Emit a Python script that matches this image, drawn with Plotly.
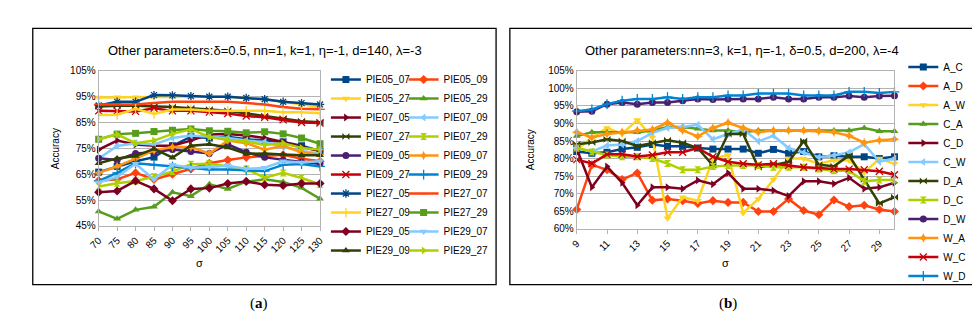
import plotly.graph_objects as go

# ---------------- data: panel (a) ----------------
sigma_a = [70, 75, 80, 85, 90, 95, 100, 105, 110, 115, 120, 125, 130]
names_a = ["PIE05_07", "PIE05_09", "PIE05_27", "PIE05_29", "PIE07_05", "PIE07_09",
           "PIE07_27", "PIE07_29", "PIE09_05", "PIE09_07", "PIE09_27", "PIE09_29",
           "PIE27_05", "PIE27_07", "PIE27_09", "PIE27_29", "PIE29_05", "PIE29_07",
           "PIE29_09", "PIE29_27"]
PIE05_07 = [65.8, 68, 70, 71.6, 76, 79.5, 79, 79.5, 78.5, 78, 77.5, 76, 74]
PIE05_09 = [62.5, 63, 65.5, 63, 65, 67, 69.2, 70.5, 71.5, 72, 72.5, 71, 70]
PIE05_27 = [94.7, 94.8, 94.8, 95, 95, 95, 95, 95, 94.5, 94, 93, 92, 91]
PIE05_29 = [50.6, 47.7, 51.2, 52.4, 58, 56.5, 61.1, 59.3, 62.1, 63, 62, 59.7, 55.5]
PIE07_05 = [74.5, 78, 76.5, 76, 76, 78, 80.4, 80.5, 80, 79, 77.5, 75.5, 74]
PIE07_09 = [71, 75.9, 77, 76.5, 79, 80, 79.5, 79, 78, 77.5, 75.5, 74, 73]
PIE07_27 = [91.2, 91.5, 91.5, 91.3, 91, 90.5, 90, 89.5, 88.5, 87.5, 86.5, 85.5, 85.1]
PIE07_29 = [60.2, 61.5, 62.4, 64, 66, 68.8, 69, 68, 67, 63.6, 65.5, 63.5, 61]
PIE09_05 = [71.2, 70.5, 73, 73.5, 74.5, 73.8, 73, 76.5, 73.5, 71.5, 70.5, 69.7, 69]
PIE09_07 = [65.5, 68, 71, 74.2, 75.5, 75.5, 73, 78, 77, 74.5, 76, 73.5, 72.5]
PIE09_27 = [89.5, 89.5, 89.3, 90.5, 89.5, 89.5, 89, 88.5, 87.5, 87, 86, 85, 84.8]
PIE09_29 = [62.4, 65.5, 69.2, 68.6, 68, 67.4, 66.8, 66.8, 66.5, 66.2, 68.6, 68.9, 68]
PIE27_05 = [91.6, 93, 93, 95.6, 95.5, 95.2, 95, 95, 94.5, 94, 93, 92.5, 92]
PIE27_07 = [92, 92, 92, 92.5, 93, 93, 93, 93, 92.5, 92, 91, 90.3, 90.1]
PIE27_09 = [87.9, 88, 90.3, 88.3, 90, 90, 89.5, 89.5, 89.5, 89.5, 89, 89, 88.6]
PIE27_29 = [78.5, 80.5, 80.8, 81.5, 82, 82.5, 81.8, 81.6, 81, 81.4, 80.6, 79, 76.8]
PIE29_05 = [58, 58.5, 62.4, 59.3, 54.7, 59.3, 59.6, 61.4, 62.2, 60.9, 60.6, 61.4, 61.4]
PIE29_07 = [61.8, 64, 69, 63, 68.6, 67.5, 67.8, 68.3, 67, 67.5, 70, 69.5, 70]
PIE29_09 = [69.2, 71.1, 72, 74.8, 71.4, 76, 76.6, 75.3, 72.9, 73, 72.6, 72.3, 72.3]
PIE29_27 = [78.5, 80.4, 77, 78, 80.6, 82.4, 79.4, 78.2, 77.6, 76.3, 77, 75.1, 74.5]
values_a = [PIE05_07, PIE05_09, PIE05_27, PIE05_29, PIE07_05, PIE07_09, PIE07_27,
            PIE07_29, PIE09_05, PIE09_07, PIE09_27, PIE09_29, PIE27_05, PIE27_07,
            PIE27_09, PIE27_29, PIE29_05, PIE29_07, PIE29_09, PIE29_27]

# ---------------- data: panel (b) ----------------
sigma_b = [9, 10, 11, 12, 13, 14, 15, 16, 17, 18, 19, 20, 21, 22, 23, 24, 25, 26, 27, 28, 29, 30]
sigma_b_ticks = [9, 11, 13, 15, 17, 19, 21, 23, 25, 27, 29]
names_b = ["A_C", "A_D", "A_W", "C_A", "C_D", "C_W", "D_A", "D_C", "D_W", "W_A", "W_C", "W_D"]
A_C = [82, 81.5, 81.8, 82.7, 83.2, 84, 83.5, 83.5, 83, 82.7, 82.7, 82.7, 81.5, 82.6, 81.5, 82, 80.5, 80.8, 80.5, 80.5, 80, 80.5]
A_D = [65.5, 78.2, 76.8, 74, 75.9, 68.1, 68.5, 68, 67.2, 68, 67.5, 67.5, 64.9, 64.9, 68.5, 65.2, 64, 68.2, 66.3, 66.7, 65.5, 64.9]
A_W = [82.5, 86, 88.7, 87, 91, 86, 63, 69, 68, 80, 81, 64.5, 68.5, 74, 80, 80, 78.5, 79.5, 79.5, 76, 80, 78.5]
C_A = [86.4, 87.5, 87.5, 87.5, 87.5, 88, 89, 89, 88.5, 88, 88, 87.5, 88, 88, 88, 88, 88, 88, 88, 88.7, 87.8, 87.8]
C_D = [82.7, 71.8, 77.7, 73.1, 66.7, 71.8, 71.8, 71.4, 73.8, 72.7, 75.9, 71.4, 71.4, 70.9, 69.3, 73.5, 73.5, 72.8, 74.5, 71.4, 71.8, 73.1]
C_W = [83, 82, 83.7, 84, 85, 87.3, 88.7, 89, 89.6, 85.5, 87, 88.3, 84.9, 86.5, 83, 81.7, 80.4, 80.9, 81.8, 84.1, 79.1, 80]
D_A = [84.1, 84.6, 85.5, 85, 83.6, 84.5, 85.2, 84.5, 83, 78, 87, 87, 77.5, 78.2, 79, 85, 78.2, 77.8, 80.9, 74, 67.2, 69]
D_C = [83, 81.9, 81, 80.5, 80.5, 80, 78.6, 76.8, 76.8, 77.7, 78, 78, 78, 77.5, 77.5, 77.5, 77, 76.5, 76.5, 73.5, 73.9, 73.9]
D_W = [93.3, 93.5, 95.5, 96, 95.5, 96, 96, 96.5, 97, 96.8, 97, 97, 97, 97.5, 97, 97, 97.5, 97.5, 97.8, 97.5, 97.8, 97.9]
W_A = [87.5, 86, 87, 87.5, 88, 88.3, 90.2, 88, 86.3, 88.7, 90.2, 88.7, 87.5, 88, 88, 88, 87.8, 87.5, 86.5, 84.5, 85.2, 85.5]
W_C = [79.7, 78.6, 81.2, 81.2, 80.6, 81, 81.8, 81.8, 83, 80.5, 79.1, 78.5, 78.2, 78.5, 78, 77.5, 77.3, 77, 77, 76.8, 76.4, 75.4]
W_D = [93.5, 94, 95.5, 96.5, 97, 97, 97.5, 97, 97.5, 97.5, 98, 98, 98.5, 98.5, 98.5, 98, 98, 98, 99, 99, 98.7, 99]
values_b = [A_C, A_D, A_W, C_A, C_D, C_W, D_A, D_C, D_W, W_A, W_C, W_D]

# ---------------- styles ----------------
palette = ["#004586", "#ff420e", "#ffd320", "#579d1c", "#7e0021", "#83caff",
           "#314004", "#aecf00", "#4b1f6f", "#ff950e", "#c5000b", "#0084d1"]
symbols = ["square", "diamond", "triangle-down", "triangle-up", "triangle-right",
           "triangle-left", "bowtie", "hourglass", "circle", "star-diamond",
           "x-thin-open", "cross-thin-open", "asterisk-open", "line-ew-open", "line-ns-open"]
open_syms = {"x-thin-open", "cross-thin-open", "asterisk-open", "line-ew-open", "line-ns-open"}

FONT = "Liberation Sans, Arial, sans-serif"
GRID = "#b3b3b3"


def marker_for(i):
    sym = symbols[i % len(symbols)]
    col = palette[i % len(palette)]
    if sym in open_syms:
        return dict(symbol=sym, size=7, color=col, line=dict(width=1.3, color=col))
    return dict(symbol=sym, size=7, color=col, line=dict(width=0))


fig = go.Figure()

for i, (name, vals) in enumerate(zip(names_a, values_a)):
    fig.add_trace(go.Scatter(
        x=sigma_a, y=vals, name=name, mode="lines+markers",
        line=dict(color=palette[i % 12], width=2.5),
        marker=marker_for(i), cliponaxis=False,
        xaxis="x", yaxis="y",
        legend="legend" if i % 2 == 0 else "legend2"))

for i, (name, vals) in enumerate(zip(names_b, values_b)):
    fig.add_trace(go.Scatter(
        x=sigma_b, y=vals, name=name, mode="lines+markers",
        line=dict(color=palette[i % 12], width=2.5),
        marker=marker_for(i), cliponaxis=False,
        xaxis="x2", yaxis="y2", legend="legend3"))

W, H = 980, 324


def px_x(p):
    return p / W


def px_y(p):
    return 1 - p / H


axis_common = dict(showgrid=False, showline=True, mirror=True, linecolor=GRID, linewidth=1,
                   zeroline=False, tickfont=dict(family=FONT, size=10, color="#000"))

xa = dict(axis_common, domain=[px_x(81), px_x(306)], range=[70, 130], tickmode="array",
          tickvals=sigma_a, ticktext=[str(v) for v in sigma_a], tickangle=-45,
          ticks="outside", ticklen=4, tickcolor=GRID, anchor="y")
ya = dict(axis_common, domain=[px_y(220), px_y(59)], range=[45, 105], dtick=10, tick0=45,
          ticksuffix="%", showgrid=True, gridcolor=GRID, gridwidth=1, anchor="x")
xb = dict(axis_common, domain=[px_x(567), px_x(890)], range=[9, 30], tickmode="array",
          tickvals=sigma_b_ticks, ticktext=[str(v) for v in sigma_b_ticks], tickangle=-45,
          ticks="outside", ticklen=4, tickcolor=GRID, anchor="y2")
yb = dict(axis_common, domain=[px_y(223), px_y(59)], range=[60, 105], dtick=5, tick0=60,
          ticksuffix="%", showgrid=True, gridcolor=GRID, gridwidth=1, anchor="x2")

legend_common = dict(font=dict(family=FONT, size=10, color="#000"), bgcolor="rgba(0,0,0,0)",
                     borderwidth=0, tracegroupgap=0, xanchor="left", yanchor="top",
                     orientation="v", itemclick=False, itemdoubleclick=False)

ann = []
ann.append(dict(text="Other parameters:δ=0.5, nn=1, k=1, η=-1, d=140, λ=-3", x=px_x(250), y=px_y(38),
                xref="paper", yref="paper", showarrow=False, xanchor="center", yanchor="middle",
                font=dict(family=FONT, size=13, color="#000")))
ann.append(dict(text="Other parameters:nn=3, k=1, η=-1, δ=0.5, d=200, λ=-4", x=px_x(735), y=px_y(38),
                xref="paper", yref="paper", showarrow=False, xanchor="center", yanchor="middle",
                font=dict(family=FONT, size=13, color="#000")))
for xp, yp in [(37, 140), (520, 141)]:
    ann.append(dict(text="Accuracy", x=px_x(xp), y=px_y(yp), xref="paper", yref="paper",
                    showarrow=False, textangle=-90, xanchor="center", yanchor="middle",
                    font=dict(family=FONT, size=10, color="#000")))
for xp in [183, 718]:
    ann.append(dict(text="σ", x=px_x(xp), y=px_y(259), xref="paper", yref="paper",
                    showarrow=False, xanchor="center", yanchor="middle",
                    font=dict(family=FONT, size=11, color="#000")))
for lab, xp in [("a", 244), ("b", 721)]:
    ann.append(dict(text="(<b>%s</b>)" % lab, x=px_x(xp), y=px_y(301), xref="paper", yref="paper",
                    showarrow=False, xanchor="center", yanchor="middle",
                    font=dict(family="Liberation Serif, serif", size=15, color="#000")))

shapes = [
    dict(type="rect", xref="paper", yref="paper", x0=px_x(14), x1=px_x(485), y0=px_y(281), y1=px_y(15),
         line=dict(color="#000", width=1.3), fillcolor="rgba(0,0,0,0)", layer="below"),
    dict(type="rect", xref="paper", yref="paper", x0=px_x(499), x1=px_x(970), y0=px_y(281), y1=px_y(15),
         line=dict(color="#000", width=1.3), fillcolor="rgba(0,0,0,0)", layer="below"),
]

fig.update_layout(
    width=W, height=H, margin=dict(l=0, r=0, t=0, b=0),
    paper_bgcolor="white", plot_bgcolor="white",
    xaxis=xa, yaxis=ya, xaxis2=xb, yaxis2=yb,
    legend=dict(legend_common, x=px_x(312), y=px_y(53)),
    legend2=dict(legend_common, x=px_x(391), y=px_y(53)),
    legend3=dict(legend_common, x=px_x(899), y=px_y(40)),
    annotations=ann, shapes=shapes, showlegend=True,
)

fig.write_html("out.html")
